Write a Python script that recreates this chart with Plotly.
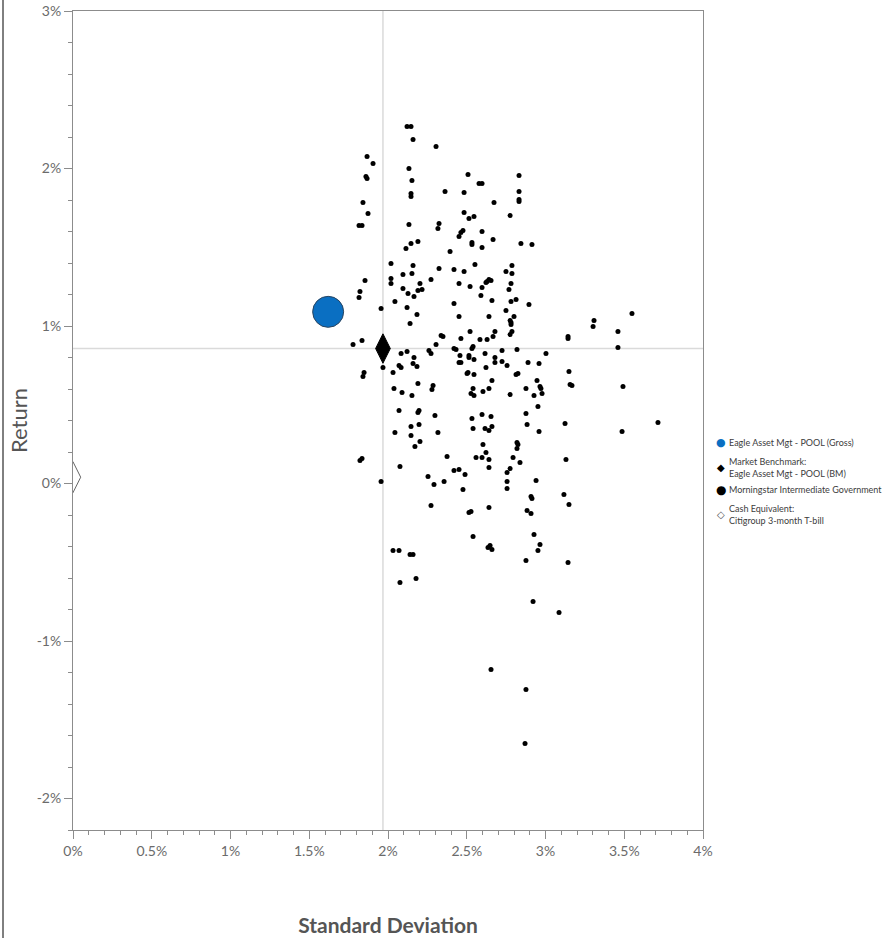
import plotly.graph_objects as go

# ---------------- data (standard deviation %, return %) ----------------
fund_name = "Eagle Asset Mgt - POOL (Gross)"
fund_sd = [1.62]
fund_ret = [1.09]

bm_name = "Market Benchmark:<br>Eagle Asset Mgt - POOL (BM)"
bm_sd = [1.968]
bm_ret = [0.857]

cash_name = "Cash Equivalent:<br>Citigroup 3-month T-bill"
cash_sd = [0.0]
cash_ret = [0.04]

peer_name = "Morningstar Intermediate Government"
peer_sd = [
    1.867, 1.905, 1.860, 1.867, 1.841, 1.873, 1.816, 1.835, 1.854, 1.822,
    1.816, 1.956, 2.121, 2.146, 2.159, 2.305, 2.133, 2.152, 2.146, 2.146,
    2.508, 2.578, 2.597, 2.362, 2.483, 2.832, 2.832, 2.832, 2.832, 2.673,
    2.133, 2.483, 2.546, 2.514, 2.324, 2.317, 2.775, 2.476, 2.463, 2.451,
    2.597, 2.146, 2.190, 2.114, 2.533, 2.533, 2.597, 2.667, 2.394, 2.844,
    2.914, 2.019, 2.159, 2.324, 2.419, 2.483, 2.552, 2.019, 2.095, 2.152,
    2.019, 2.203, 2.273, 2.095, 2.190, 2.216, 2.127, 2.165, 2.044, 2.121,
    2.419, 2.451, 2.521, 2.597, 2.590, 2.660, 2.629, 2.641, 2.654, 2.622,
    2.749, 2.787, 2.787, 2.781, 2.768, 2.781, 2.813, 2.895,
    2.184, 2.140, 2.451, 2.641, 2.749, 2.800, 2.775, 2.781, 2.781,
    1.778, 1.835, 1.968, 2.083, 2.121, 2.165, 2.070, 2.083, 2.159, 2.184,
    2.032, 2.190, 2.260, 2.273, 2.305, 2.337, 2.349, 2.419, 2.432, 2.463,
    2.521, 2.584, 2.629, 2.667, 2.679, 2.775, 2.787, 2.533, 2.540, 2.514,
    2.514, 2.457, 2.451, 2.463, 2.546, 2.616, 2.679, 2.724, 2.819, 2.724,
    2.679, 2.756, 2.622, 2.508, 2.502, 2.546, 2.660, 2.813, 2.825, 2.889,
    2.959, 2.946,
    2.038, 2.089, 2.152, 2.286, 2.279, 2.540, 2.527, 2.546, 2.603, 2.641,
    2.775, 2.876, 2.927, 2.952,
    2.070, 2.197, 2.190, 2.298, 2.533, 2.597, 2.654, 2.876,
    2.146, 2.197, 2.044, 2.146, 2.317, 2.540, 2.616, 2.641, 2.660, 2.883, 2.959,
    2.203, 2.171, 2.603, 2.819, 2.825, 2.819, 2.622, 2.559, 2.597, 2.641,
    2.794, 2.838, 2.375, 1.835, 1.822, 2.076, 1.956, 2.254, 2.292, 2.356,
    2.419, 2.451, 2.489, 2.476, 2.641, 2.756, 2.775, 2.756, 2.756, 2.940,
    2.908, 1.848, 1.841,
    3.549, 3.308, 3.302, 3.143, 3.143, 3.460, 3.460, 3.003, 3.149, 3.156,
    3.168, 2.965, 2.971, 2.978, 3.124, 3.492, 3.714, 3.486, 3.130,
    2.273, 2.514, 2.527, 2.641, 2.914, 2.883, 2.908, 3.117, 3.149, 2.540,
    2.648, 2.635, 2.660, 2.927, 2.965, 2.952, 2.876, 3.143, 2.032, 2.070,
    2.140, 2.159, 2.076, 2.178, 2.921, 3.086, 2.654, 2.876, 2.870,
]
peer_ret = [
    2.076, 2.032, 1.949, 1.937, 1.784, 1.714, 1.638, 1.638, 1.289, 1.219,
    1.181, 1.111, 2.267, 2.267, 2.184, 2.140, 2.000, 1.924, 1.841, 1.822,
    1.962, 1.905, 1.905, 1.854, 1.848, 1.956, 1.854, 1.803, 1.790, 1.784,
    1.644, 1.721, 1.695, 1.683, 1.651, 1.619, 1.702, 1.606, 1.594, 1.568,
    1.600, 1.524, 1.537, 1.492, 1.530, 1.517, 1.498, 1.549, 1.473, 1.524,
    1.517, 1.397, 1.384, 1.365, 1.359, 1.346, 1.390, 1.302, 1.327, 1.333,
    1.270, 1.270, 1.295, 1.238, 1.225, 1.232, 1.206, 1.187, 1.156, 1.117,
    1.143, 1.270, 1.251, 1.244, 1.194, 1.162, 1.283, 1.295, 1.289, 1.276,
    1.346, 1.384, 1.333, 1.270, 1.232, 1.156, 1.168, 1.137,
    1.073, 1.016, 1.060, 1.060, 1.098, 1.060, 1.035, 1.022, 1.010,
    0.883, 0.908, 0.737, 0.825, 0.838, 0.800, 0.749, 0.737, 0.762, 0.743,
    0.705, 0.635, 0.844, 0.825, 0.883, 0.940, 0.933, 0.857, 0.851, 0.921,
    0.965, 0.914, 0.914, 0.933, 0.965, 0.946, 0.965, 0.857, 0.870, 0.813,
    0.800, 0.813, 0.768, 0.768, 0.787, 0.825, 0.800, 0.844, 0.851, 0.775,
    0.768, 0.749, 0.737, 0.705, 0.698, 0.692, 0.654, 0.692, 0.698, 0.768,
    0.762, 0.654,
    0.603, 0.578, 0.559, 0.622, 0.597, 0.603, 0.571, 0.559, 0.584, 0.603,
    0.565, 0.603, 0.559, 0.489,
    0.463, 0.463, 0.451, 0.432, 0.413, 0.438, 0.425, 0.444,
    0.362, 0.375, 0.324, 0.305, 0.324, 0.349, 0.349, 0.337, 0.362, 0.375, 0.330,
    0.267, 0.235, 0.248, 0.260, 0.248, 0.222, 0.197, 0.165, 0.165, 0.152,
    0.165, 0.133, 0.171, 0.159, 0.146, 0.108, 0.013, 0.044, -0.006, 0.013,
    0.083, 0.089, 0.057, -0.038, 0.102, 0.070, 0.095, 0.013, -0.032, 0.019,
    -0.083, 0.705, 0.679,
    1.079, 1.035, 0.997, 0.933, 0.921, 0.965, 0.863, 0.825, 0.711, 0.629,
    0.622, 0.616, 0.603, 0.571, 0.381, 0.616, 0.387, 0.330, 0.152,
    -0.140, -0.184, -0.178, -0.152, -0.095, -0.171, -0.190, -0.070, -0.133, -0.337,
    -0.394, -0.406, -0.419, -0.324, -0.387, -0.425, -0.489, -0.502, -0.425, -0.425,
    -0.451, -0.451, -0.629, -0.603, -0.749, -0.819, -1.181, -1.308, -1.651,
]

x_tickvals = [0, 0.5, 1, 1.5, 2, 2.5, 3, 3.5, 4]
x_ticktext = ["0%", "0.5%", "1%", "1.5%", "2%", "2.5%", "3%", "3.5%", "4%"]
y_tickvals = [-2, -1, 0, 1, 2, 3]
y_ticktext = ["-2%", "-1%", "0%", "1%", "2%", "3%"]

x_range = [0, 4]
y_range = [-2.2, 3]

# ---------------- styling ----------------
FONT = "Lato, 'Open Sans', sans-serif"
AXIS_COL = "#8c8c8c"
TEXT_COL = "#6b6b6b"
TITLE_COL = "#555555"
BLUE = "#0A6FC2"

fig = go.Figure()

fig.add_trace(go.Scatter(
    x=peer_sd, y=peer_ret, mode="markers", name=peer_name,
    marker=dict(color="black", size=5, line=dict(width=0)),
    showlegend=False,
))
fig.add_trace(go.Scatter(
    x=fund_sd, y=fund_ret, mode="markers", name=fund_name,
    marker=dict(color=BLUE, size=31, line=dict(color="#2a4560", width=1)),
    showlegend=False,
))
fig.add_trace(go.Scatter(
    x=bm_sd, y=bm_ret, mode="markers", name=bm_name,
    marker=dict(color="black", symbol="diamond-tall", size=21, line=dict(color="black", width=1)),
    showlegend=False,
))
fig.add_trace(go.Scatter(
    x=cash_sd, y=cash_ret, mode="markers", name=cash_name,
    marker=dict(color="white", symbol="diamond-tall", size=22, line=dict(color="#666666", width=1)),
    showlegend=False,
))

# crosshair through the benchmark
fig.add_shape(type="line", xref="x", yref="paper", x0=bm_sd[0], x1=bm_sd[0], y0=0, y1=1,
              line=dict(color="#dadada", width=1.5), layer="below")
fig.add_shape(type="line", xref="paper", yref="y", x0=0, x1=1, y0=bm_ret[0], y1=bm_ret[0],
              line=dict(color="#dadada", width=1.5), layer="below")

# page frame line at the far left
fig.add_shape(type="line", xref="paper", yref="paper", x0=-0.1111, x1=-0.1111, y0=-0.14, y1=1.02,
              line=dict(color="#555555", width=1.5))

# ---------------- manual legend ----------------
W_PLOT = 630.0
H_PLOT = 819.0
def px_x(px):
    return (px - 73) / W_PLOT
def px_y(py):
    return (830 - py) / H_PLOT

legend_items = [
    ("●", BLUE, 11, fund_name, 442),
    ("◆", "black", 10, bm_name, 467.5),
    ("●", "black", 12, peer_name, 490),
    ("◇", "#555555", 10, cash_name, 514),
]
for sym, col, fs, label, py in legend_items:
    fig.add_annotation(xref="paper", yref="paper", x=px_x(721), y=px_y(py),
                       text=sym, showarrow=False, xanchor="center", yanchor="middle",
                       font=dict(family="DejaVu Sans", size=fs, color=col))
    fig.add_annotation(xref="paper", yref="paper", x=px_x(727), y=px_y(py),
                       text=label, showarrow=False, xanchor="left", yanchor="middle",
                       align="left", font=dict(family=FONT, size=9, color="#3c3c3c"))

axis_common = dict(
    showgrid=False, zeroline=False,
    showline=True, linecolor=AXIS_COL, linewidth=1, mirror=True,
    ticks="outside", ticklen=8, tickcolor=AXIS_COL, tickwidth=1,
    tickfont=dict(family=FONT, size=14, color=TEXT_COL),
)

fig.update_xaxes(
    **axis_common,
    range=x_range, tickmode="array", tickvals=x_tickvals, ticktext=x_ticktext,
    minor=dict(ticks="outside", ticklen=4, tickcolor=AXIS_COL, dtick=0.1, tick0=0),
    title=dict(text="<b>Standard Deviation</b>", standoff=60,
               font=dict(family=FONT, size=21, color=TITLE_COL)),
)
fig.update_yaxes(
    **axis_common,
    range=y_range, tickmode="array", tickvals=y_tickvals, ticktext=y_ticktext,
    minor=dict(ticks="outside", ticklen=4, tickcolor=AXIS_COL, dtick=0.2, tick0=0),
    title=dict(text="Return", standoff=2,
               font=dict(family=FONT, size=22, color=TITLE_COL)),
)

fig.update_layout(
    width=887, height=938,
    margin=dict(l=73, r=184, t=11, b=108, autoexpand=False),
    plot_bgcolor="white", paper_bgcolor="white",
    showlegend=False,
    font=dict(family=FONT),
)

fig.write_html("out.html")
